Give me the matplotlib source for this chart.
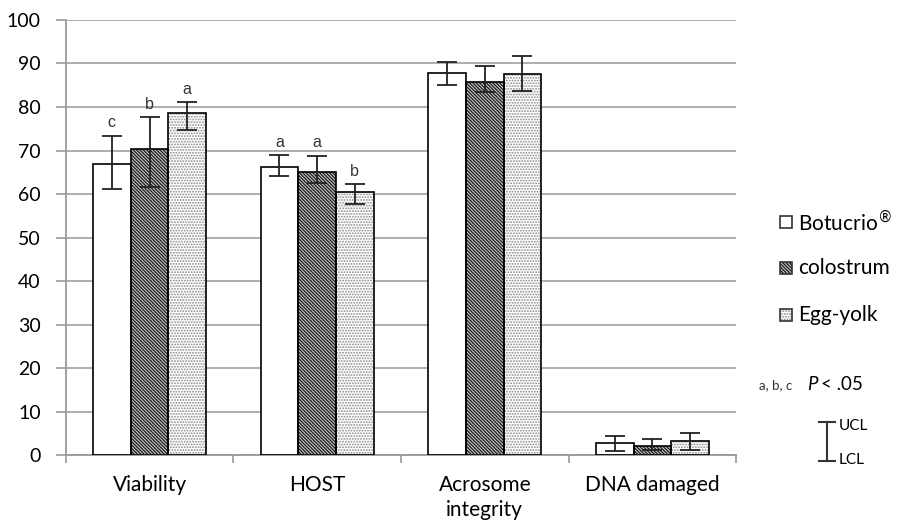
import matplotlib.pyplot as plt
import numpy as np
from matplotlib.lines import Line2D
from matplotlib.patches import Rectangle

plt.rcParams['font.family'] = ['Lato', 'DejaVu Sans']
plt.rcParams['hatch.linewidth'] = 0.9

categories = ["Viability", "HOST", "Acrosome\nintegrity", "DNA damaged"]
groups = ["Botucrio$^{®}$", "colostrum", "Egg-yolk"]

# means and lower / upper confidence limits
botucrio = [67.0, 66.2, 87.9, 2.8]
botucrio_lcl = [61.1, 64.2, 85.0, 1.0]
botucrio_ucl = [73.3, 68.9, 90.4, 4.4]

colostrum = [70.3, 65.0, 85.8, 2.1]
colostrum_lcl = [61.6, 62.5, 83.4, 1.1]
colostrum_ucl = [77.6, 68.8, 89.4, 3.7]

eggyolk = [78.6, 60.5, 87.6, 3.3]
eggyolk_lcl = [74.8, 57.6, 83.7, 1.3]
eggyolk_ucl = [81.1, 62.2, 91.8, 5.0]

letters_botucrio = ["c", "a", "", ""]
letters_colostrum = ["b", "a", "", ""]
letters_eggyolk = ["a", "b", "", ""]

fig = plt.figure(figsize=(9, 5.25), dpi=100)
ax = fig.add_axes([0.073, 0.133, 0.745, 0.829])

x = np.arange(len(categories))
w = 0.225
styles = [
    ("white", None, "black"),
    ("#c8c8c8", "\\" * 10, "#1a1a1a"),
    ("white", "." * 6, "#8a8a8a"),
]
data = [
    (botucrio, botucrio_lcl, botucrio_ucl, letters_botucrio),
    (colostrum, colostrum_lcl, colostrum_ucl, letters_colostrum),
    (eggyolk, eggyolk_lcl, eggyolk_ucl, letters_eggyolk),
]

for i, ((vals, lcl, ucl, lets), (fc, hatch, hc)) in enumerate(zip(data, styles)):
    pos = x + (i - 1) * w
    vals = np.array(vals)
    yerr = [vals - np.array(lcl), np.array(ucl) - vals]
    ax.bar(pos, vals, w, color=fc, hatch=hatch, edgecolor=hc, linewidth=0, zorder=2)
    ax.bar(pos, vals, w, fill=False, edgecolor="black", linewidth=1.2, zorder=3)
    ax.errorbar(pos, vals, yerr=yerr, fmt="none", ecolor="#222222", elinewidth=1.3,
                capsize=7, capthick=1.3, zorder=4)
    for p, u, t in zip(pos, ucl, lets):
        if t:
            ax.text(p, u + 1.3, t, ha="center", va="bottom", fontsize=11.5, color="#333333",
                    family="Liberation Sans")

ax.set_ylim(0, 100)
ax.set_xlim(-0.5, 3.5)
ax.set_yticks(range(0, 101, 10))
ax.yaxis.grid(True, color="#a8a8a8", linewidth=1.3, zorder=0)
ax.set_axisbelow(True)
ax.set_xticks(x)
ax.set_xticklabels(categories, fontsize=15, linespacing=1.35)
ax.set_xticks(np.arange(-0.5, 4, 1), minor=True)
ax.tick_params(axis="x", which="major", length=0, pad=14)
ax.tick_params(axis="x", which="minor", length=6, color="#999999", width=1.2)
ax.tick_params(axis="y", length=7, color="#999999", width=1.2, labelsize=14, pad=11)
for s in ["top", "right"]:
    ax.spines[s].set_visible(False)
for s in ["left", "bottom"]:
    ax.spines[s].set_color("#999999")
    ax.spines[s].set_linewidth(1.3)

# legend, drawn by hand to keep the wide spacing of the original
legend_y = [1 - 222 / 525, 1 - 268 / 525, 1 - 315 / 525]
bw, bh = 12 / 900, 12 / 525
for (fc, hatch, hc), label, ly in zip(styles, groups, legend_y):
    fig.add_artist(Rectangle((780 / 900, ly - bh / 2), bw, bh, transform=fig.transFigure,
                             facecolor=fc, hatch=hatch, edgecolor=hc, linewidth=0))
    fig.add_artist(Rectangle((780 / 900, ly - bh / 2), bw, bh, transform=fig.transFigure,
                             fill=False, edgecolor="#333333", linewidth=1.2))
    fig.text(798 / 900, ly, label, fontsize=15, va="center", ha="left")

yp = 1 - 385 / 525
fig.text(759 / 900, yp, "a, b, c", fontsize=9.5, color="#333333", va="center")
fig.text(807 / 900, yp, "P", fontsize=13.5, style="italic", va="center")
fig.text(821 / 900, yp, "< .05", fontsize=13.5, va="center")

# UCL / LCL key
xk = 827 / 900
yt, yb = 1 - 422 / 525, 1 - 461 / 525
cw = 8 / 900
fig.add_artist(Line2D([xk, xk], [yt, yb], color="#333333", lw=1.5))
fig.add_artist(Line2D([xk - cw, xk + cw], [yt, yt], color="#333333", lw=1.5))
fig.add_artist(Line2D([xk - cw, xk + cw], [yb, yb], color="#333333", lw=1.5))
fig.text(839 / 900, 1 - 426 / 525, "UCL", fontsize=11, va="center")
fig.text(839 / 900, 1 - 460 / 525, "LCL", fontsize=11, va="center")

fig.savefig("out.png", dpi=100)
